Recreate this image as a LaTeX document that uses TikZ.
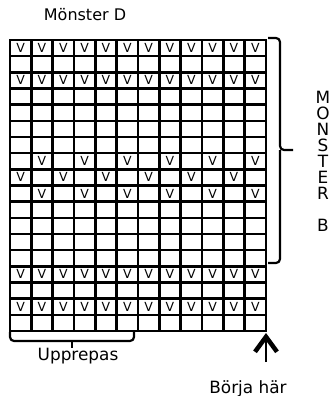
\documentclass[tikz,border=0pt]{standalone}
\usepackage{fontspec}
\setmainfont{DejaVu Sans}
\usetikzlibrary{arrows.meta}

\begin{document}
\begin{tikzpicture}[x=1pt,y=-1pt,
  gridline/.style={line width=2.4pt,line cap=rect},
  brace line/.style={line width=2.2pt,rounded corners=4pt},
  stitch/.style={font=\fontsize{12.5}{12}\selectfont,inner sep=0pt},
  label text/.style={font=\fontsize{16.9}{16}\selectfont,inner sep=0pt}]
\useasboundingbox (0,0) rectangle (333,396);
\def\cw{21.333}
\def\rh{16.167}

% chart
\foreach \i in {0,...,12}
  \draw[gridline] (10+\i*\cw,40) -- (10+\i*\cw,331);
\foreach \j in {0,...,18}
  \draw[gridline] (10,40+\j*\rh) -- (266,40+\j*\rh);

\foreach \r in {1,3,15,17}
  \foreach \c in {1,...,12}
    \node[stitch] at (10+\c*\cw-0.5*\cw,40+\r*\rh-0.5*\rh) {V};
\foreach \r in {8,10}
  \foreach \c in {2,4,...,12}
    \node[stitch] at (10+\c*\cw-0.5*\cw,40+\r*\rh-0.5*\rh) {V};
\foreach \c in {1,3,...,11}
  \node[stitch] at (10+\c*\cw-0.5*\cw,40+8.5*\rh) {V};

% labels
\node[label text,font=\fontsize{16}{16}\selectfont,anchor=base] (title) at (85,21) {Mönster D};
\node[label text,anchor=base] (repeat) at (78,360) {Upprepas};
\node[label text,anchor=base] (begin) at (248,393) {Börja här};
\node[label text,anchor=north,align=center] (side) at (323,91)
  {M\\O\\N\\S\\T\\E\\R\\[16pt]B};

% braces
\coordinate (top) at (268,38);
\coordinate (bot) at (268,263);
\coordinate (tip) at (293,150);
\draw[brace line] (top) -| (280,150) -- (tip);
\draw[brace line] (bot) -| (280,150);
\coordinate (rep l) at (10,332);
\coordinate (rep r) at (134,332);
\coordinate (rep tip) at (72,348);
\draw[brace line] (rep l) |- (72,341) -| (rep r);
\draw[brace line] (72,341) -- (rep tip);

% start arrow
\coordinate (start) at (266,362);
\coordinate (corner) at (266,333);
\draw[line width=2.4pt,-{Straight Barb[length=15pt,width=22pt,line width=4.5pt]}] (start) -- (corner);
\end{tikzpicture}
\end{document}
